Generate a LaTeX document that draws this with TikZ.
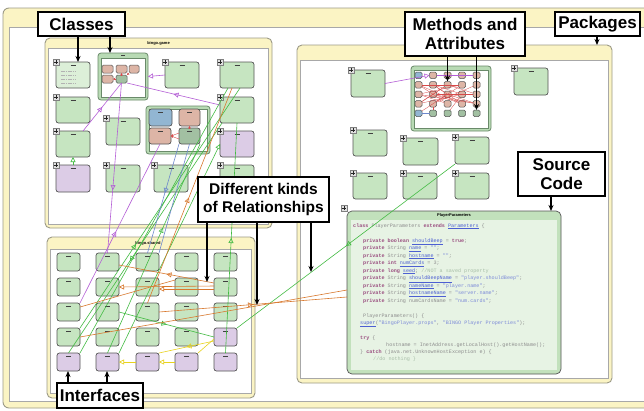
\documentclass[tikz,border=0pt]{standalone}
\usepackage{fontspec}
\setmainfont{Liberation Sans}
\setmonofont{Liberation Mono}
\usetikzlibrary{arrows.meta,calc,decorations.markings}
\definecolor{pkgyellow}{HTML}{FBF4C4}
\definecolor{pkgline}{HTML}{9C9A86}
\definecolor{innerline}{HTML}{A8A8A8}
\definecolor{clsgreen}{HTML}{C6E5C1}
\definecolor{clspale}{HTML}{DCEFD8}
\definecolor{clslilac}{HTML}{DCCCE6}
\definecolor{clssalmon}{HTML}{DDB5A6}
\definecolor{clsblue}{HTML}{92B6D2}
\definecolor{clsgray}{HTML}{A2C0A2}
\definecolor{boxborder}{HTML}{555555}
\definecolor{grpgreen}{HTML}{B8DAB4}
\definecolor{grpborder}{HTML}{6A8A6A}
\definecolor{srcouter}{HTML}{C2E1BC}
\definecolor{srcinner}{HTML}{E7F3E4}
\definecolor{purc}{HTML}{B45ED6}
\definecolor{grnc}{HTML}{44BB44}
\definecolor{orgc}{HTML}{D8782E}
\definecolor{yelc}{HTML}{E8D21E}
\definecolor{bluc}{HTML}{6E88CC}
\definecolor{redc}{HTML}{D64A4A}
\definecolor{codebase}{HTML}{8C8C8C}
\definecolor{codekw}{HTML}{9A4E80}
\definecolor{codefld}{HTML}{4D5FD2}
\definecolor{codestr}{HTML}{7C8AD8}
\definecolor{codecmt}{HTML}{A6BDA6}

\tikzset{
  cbox/.style={draw=boxborder, line width=0.7pt, rounded corners=2.5pt, anchor=north west, inner sep=0pt, outer sep=0pt},
  pkgbox/.style={draw=pkgline, line width=0.9pt, fill=pkgyellow, rounded corners=5pt, anchor=north west, inner sep=0pt, outer sep=0pt},
  grpbox/.style={draw=grpborder, line width=0.8pt, fill=grpgreen, rounded corners=3pt, anchor=north west, inner sep=0pt, outer sep=0pt},
  rel/.style={line width=0.6pt},
  midtri/.style={postaction={decorate}, decoration={markings, mark=at position #1 with {\arrow{Triangle[open,length=5pt,width=5pt]}}}},
  midtri/.default=0.5,
  endtri/.style={-{Triangle[open,length=5pt,width=5pt]}},
  redtip/.style={-{Stealth[length=2.5pt,width=2.5pt]}},
  callout/.style={draw=black, line width=1.5pt, fill=white, anchor=north west, inner sep=0pt, outer sep=0pt, font=\bfseries\fontsize{17}{19.5}\selectfont, align=center},
  pointer/.style={line width=1.3pt, -{Stealth[length=6pt,width=5pt]}},
  codeln/.style={anchor=base west, inner sep=0pt, font=\ttfamily\fontsize{5.1}{6}\selectfont, text=codebase},
  ptitle/.style={font=\bfseries\fontsize{4}{5}\selectfont, inner sep=0pt},
}

\newcommand\rkcls[6]{%
  \node[cbox, fill=#6, minimum width=#4pt, minimum height=#5pt] (#1) at (#2,#3) {};
  \draw[line width=0.8pt, black!75] ($(#1.north)+(-2.5,3.2)$) -- ++(5,0);}
\newcommand\rkplus[2]{%
  \draw[black!50, fill=black!12, line width=0.4pt] (#1,#2) rectangle ++(6,6);
  \draw[black!85, line width=0.6pt] ($(#1,#2)+(1.2,3)$) -- ++(3.6,0) ($(#1,#2)+(3,1.2)$) -- ++(0,3.6);}
\newcommand\rkclsp[6]{\rkcls{#1}{#2}{#3}{#4}{#5}{#6}\rkplus{#2-3}{#3-3}}
\newcommand\rktiny[6]{%
  \node[cbox, rounded corners=1.5pt, line width=0.5pt, fill=#6, minimum width=#4pt, minimum height=#5pt] (#1) at (#2,#3) {};}
\newcommand\rkkw[1]{\textcolor{codekw}{\bfseries #1}}
\newcommand\rkfld[1]{\textcolor{codefld}{\underline{#1}}}
\newcommand\rkstr[1]{\textcolor{codestr}{#1}}
\newcommand\rkcmt[1]{\textcolor{codecmt}{#1}}

\begin{document}
\begin{tikzpicture}[x=1pt, y=-1pt]
\path[use as bounding box] (0,0) rectangle (644,410);
\clip (0,0) rectangle (644,410);

% outer package frame
\draw[draw=pkgline, line width=0.9pt, fill=pkgyellow, rounded corners=6pt] (3,8) rectangle (700,408);
\draw[draw=innerline, line width=0.6pt, fill=white] (9,27) rectangle (700,401);

% packages
\node[pkgbox, minimum width=227pt, minimum height=190pt] (pkgGame) at (45,38) {};
\draw[draw=innerline, fill=white, line width=0.6pt] ($(pkgGame.north west)+(3,10)$) rectangle ($(pkgGame.south east)+(-4,-4)$);
\node[ptitle] (ttlGame) at ($(pkgGame.north)+(0,5)$) {bingo.game};

\node[pkgbox, minimum width=208pt, minimum height=161pt] (pkgShared) at (47,237) {};
\draw[draw=innerline, fill=white, line width=0.6pt] ($(pkgShared.north west)+(3,12)$) rectangle ($(pkgShared.south east)+(-4,-5)$);
\node[ptitle] (ttlShared) at ($(pkgShared.north)+(-3,6)$) {bingo.shared};

\node[pkgbox, minimum width=315pt, minimum height=338pt] (pkgPlayer) at (297,45) {};
\draw[draw=innerline, fill=white, line width=0.6pt] ($(pkgPlayer.north west)+(3,15)$) rectangle ($(pkgPlayer.south east)+(-4,-5)$);

% ---------- bingo.game classes ----------
\rkclsp{tA}{56}{62}{34}{26}{clspale}
\foreach \yy in {9,13,17,21} {\draw[black!30, line width=0.5pt, dash pattern=on 1.6pt off 0.7pt] ($(tA.north west)+(5,\yy)$) -- ++(16,0);}
\rkclsp{tC}{165}{62}{34}{26}{clsgreen}
\rkclsp{tD}{220}{62}{34}{26}{clsgreen}
\rkclsp{tE}{56}{97}{34}{26}{clsgreen}
\rkclsp{tF}{220}{97}{34}{26}{clsgreen}
\rkclsp{tG}{56}{131}{34}{26}{clsgreen}
\rkclsp{tH}{106}{118}{34}{27}{clsgreen}
\rkclsp{tJ}{220}{131}{34}{26}{clslilac}
\rkclsp{tK}{56}{165}{34}{27}{clslilac}
\rkclsp{tL}{106}{165}{34}{27}{clsgreen}
\rkclsp{tM}{154}{165}{34}{27}{clsgreen}
\rkclsp{tN}{220}{165}{34}{27}{clsgreen}

% group B
\node[grpbox, minimum width=50pt, minimum height=47pt] (gB) at (98,53) {};
\draw[fill=white, draw=grpborder, line width=0.5pt] ($(gB.north west)+(3,5)$) rectangle ($(gB.south east)+(-3,-3)$);
\draw[line width=0.7pt, black!75] ($(gB.north)+(-2,2.5)$) -- ++(4,0);
\rktiny{sB1}{102}{65}{11}{8}{clssalmon}
\rktiny{sB2}{116}{65}{11}{8}{clssalmon}
\rktiny{sB3}{129}{65}{10}{8}{clssalmon}
\rktiny{sB4}{102}{75}{11}{8}{clssalmon}
\rktiny{sB5}{116}{75}{11}{8}{clsgray}

% group I
\node[grpbox, minimum width=64pt, minimum height=48pt] (gI) at (146,106) {};
\draw[fill=white, draw=grpborder, line width=0.5pt] ($(gI.north west)+(3,3)$) rectangle ($(gI.south east)+(-3,-3)$);
\rkcls{iB1}{149}{109}{23}{17}{clsblue}
\rkcls{iB2}{179}{109}{21}{17}{clssalmon}
\rkcls{iB3}{149}{128}{22}{16}{clssalmon}
\rkcls{iB4}{179}{128}{21}{16}{clsgray}

% ---------- bingo.shared classes ----------
\foreach \rowi/\yy in {1/253,2/278,3/303} {
  \foreach \coli/\xx in {1/57,2/96,3/136,4/175,5/214} {
    \rkcls{b\rowi\coli}{\xx}{\yy}{23}{18}{clsgreen}
  }
}
\foreach \coli/\xx in {1/57,2/96,3/136,4/175} {\rkcls{b4\coli}{\xx}{328}{23}{18}{clsgreen}}
\rkcls{b45}{214}{328}{23}{18}{clslilac}
\foreach \coli/\xx in {1/57,2/96,3/136,4/175,5/214} {\rkcls{b5\coli}{\xx}{353}{23}{18}{clslilac}}

% ---------- bingo.player classes ----------
\rkclsp{r1}{351}{70}{34}{27}{clsgreen}
\rkclsp{r2}{514}{68}{34}{27}{clsgreen}
\rkclsp{r3}{353}{130}{34}{26}{clsgreen}
\rkclsp{r4}{403}{138}{35}{27}{clsgreen}
\rkclsp{r5}{455}{137}{34}{27}{clsgreen}
\rkclsp{r6}{353}{173}{34}{26}{clsgreen}
\rkclsp{r7}{403}{173}{34}{26}{clsgreen}
\rkclsp{r8}{455}{173}{34}{26}{clsgreen}

\node[grpbox, minimum width=80pt, minimum height=65pt] (rG) at (411,66) {};
\draw[fill=white, draw=grpborder, line width=0.5pt] ($(rG.north west)+(3,4)$) rectangle ($(rG.south east)+(-3,-3)$);
\foreach \rowi/\yy in {1/72,2/81.5,3/91,4/100.5,5/110} {
  \foreach \coli/\xx in {1/415,2/429.5,3/444,4/458.5,5/473} {
    \def\fc{clssalmon}
    \ifnum\rowi=5 \def\fc{clsgray}\fi
    \ifnum\coli=1 \ifnum\rowi=1 \def\fc{clsblue}\fi \ifnum\rowi=5 \def\fc{clsblue}\fi \fi
    \rktiny{g\rowi\coli}{\xx}{\yy}{7}{6.5}{\fc}
  }
}

% source code box
\node[cbox, fill=srcouter, minimum width=214pt, minimum height=163pt, rounded corners=5pt] (src) at (347,211) {};
\fill[srcinner] ($(src.north west)+(4,9)$) rectangle ($(src.south east)+(-4,-4)$);
\node[ptitle] (srcTitle) at ($(src.north)+(0,4)$) {PlayerParameters};
\rkplus{341}{205}
\node[codeln] (cd1) at (353,227) {\rkkw{class} PlayerParameters \rkkw{extends} \rkfld{Parameters} \{};
\node[codeln] (cd2) at (363,242) {\rkkw{private} \rkkw{boolean} \rkfld{shouldBeep} = \rkkw{true};};
\node[codeln] (cd3) at (363,249.5) {\rkkw{private} String \rkfld{name} = \rkstr{""};};
\node[codeln] (cd4) at (363,257) {\rkkw{private} String \rkfld{hostname} = \rkstr{""};};
\node[codeln] (cd5) at (363,264.5) {\rkkw{private} \rkkw{int} \rkfld{numCards} = 3;};
\node[codeln] (cd6) at (363,272) {\rkkw{private} \rkkw{long} \rkfld{seed}; \rkcmt{//NOT a saved property}};
\node[codeln] (cd7) at (363,279.5) {\rkkw{private} String \rkfld{shouldBeepName} = \rkstr{"player.shouldBeep"};};
\node[codeln] (cd8) at (363,287) {\rkkw{private} String \rkfld{nameName} = \rkstr{"player.name"};};
\node[codeln] (cd9) at (363,294.5) {\rkkw{private} String \rkfld{hostnameName} = \rkstr{"server.name"};};
\node[codeln] (cd10) at (363,302) {\rkkw{private} String numCardsName = \rkstr{"num.cards"};};
\node[codeln] (cd11) at (363,317) {PlayerParameters() \{};
\node[codeln] (cd12) at (360,324) {\rkfld{super}(\rkstr{"BingoPlayer.props"}, \rkstr{"BINGO Player Properties"});};
\node[codeln] (cd13) at (360,339) {\rkkw{try} \{};
\node[codeln] (cd14) at (386,346) {hostname = InetAddress.getLocalHost().getHostName();};
\node[codeln] (cd15) at (360,353) {\} \rkkw{catch} (java.net.UnknownHostException e) \{};
\node[codeln] (cd16) at (373,360) {\rkcmt{//do nothing \}}};

% ---------- relationships ----------
\begin{scope}[rel]
% red, inside groups
\draw[redc, line width=0.4pt, redtip] (sB5.north) -- (sB2.south);
\draw[redc, line width=0.4pt, redtip] (sB5.west) -- (sB4.east);
\draw[redc, line width=0.4pt, redtip] (sB3.south west) -- (sB5.north east);
\draw[redc, line width=0.4pt, redtip] ($(iB4.west)+(0,-3)$) -- (iB3.east);
\draw[redc, line width=0.4pt, redtip] ($(iB4.west)+(0,3)$) -- (iB3.east);
\draw[redc, line width=0.4pt, redtip] (iB4.north) -- (iB2.south);
\foreach \nodeA/\nodeB in {g21/g43, g22/g44, g31/g45, g23/g41, g32/g35, g42/g25, g33/g51, g24/g42, g34/g22, g43/g31, g44/g21, g41/g34, g22/g33, g35/g23, g45/g32, g21/g24, g32/g44, g41/g23, g33/g45, g24/g31, g42/g52, g34/g53} {
  \draw[redc, line width=0.3pt] (\nodeA) -- (\nodeB);
}
\draw[bluc] (g51) -- (g52);
% purple
\draw[purc, endtri] (tC.west) -- (gB.east);
\draw[purc, midtri] ($(tF.north west)+(0,8)$) -- (sB5.south east);
\draw[purc, midtri] ($(tG.north west)+(27,0)$) -- (sB5.south);
\draw[purc, midtri=0.63] (sB5.south) -- (b12.north);
\draw[purc, midtri=0.45] (b31.north east) -- (iB3.south);
\draw[purc, endtri] (r1.east) -- (g12.west);
\draw[purc] (g15.west) -- (g12.east);
% green
\draw[grnc, endtri] (tK.north) -- (tG.south);
\draw[grnc] ($(tD.south west)+(8,0)$) -- (b51.north east);
\draw[grnc, midtri=0.6] ($(tF.south west)+(2,0)$) -- (b51.north);
\draw[grnc, endtri] (b52.north east) -- (tJ.west);
\draw[grnc, midtri] (b55.north) -- (tF.south);
\draw[grnc, midtri] (r5.south west) -- (b45.north east);
\draw[grnc, midtri] (b32.east) -- (b45.west);
\draw[grnc, midtri=0.35] (b41.north east) -- ($(tD.south)+(3,0)$);
\draw[grnc, midtri=0.6] (b52.north) -- (iB4.south east);
% orange
\draw[orgc, midtri=0.49] (b33.north) -- ($(tD.south west)+(12,0)$);
\draw[orgc, endtri] ($(b25.west)+(0,-1)$) -- (b22.east);
\draw[orgc, endtri] ($(b25.west)+(0,2)$) -- ($(b23.east)+(0,2)$);
\draw[orgc, midtri] ($(b25.west)+(0,-4)$) -- ($(b12.east)+(0,3)$);
\draw[orgc] ($(b31.north east)+(0,4)$) -- ($(b24.west)+(0,-7)$);
\draw[orgc, midtri] (b33.east) -- ($(src.west)+(0,4.5)$);
\draw[orgc] (b41.east) -- ($(src.west)+(0,-2.5)$);
% yellow
\draw[yelc, midtri] ($(b45.west)+(0,4)$) -- (b53.north east);
\draw[yelc] (b54.north east) -- ($(b45.west)+(0,2)$);
\draw[yelc, endtri] (b54.west) -- (b53.east);
\draw[yelc, endtri] (b53.west) -- (b52.east);
% blue
\draw[bluc, midtri=0.45] (iB4.south west) -- (b13.north);
\draw[bluc] (iB4.south) -- (b13.north east);
\end{scope}

% ---------- callouts ----------
\node[callout, minimum width=87pt, minimum height=24pt] (lblClasses) at (38,12) {Classes};
\node[callout, minimum width=120pt, minimum height=44pt] (lblMethods) at (405,12) {Methods and\\Attributes};
\node[callout, minimum width=85pt, minimum height=24pt] (lblPackages) at (555,12) {Packages};
\node[callout, minimum width=87pt, minimum height=44pt] (lblSource) at (518,152) {Source\\Code};
\node[callout, minimum width=131pt, minimum height=45pt, font=\bfseries\fontsize{15.5}{18.5}\selectfont] (lblRel) at (198,177) {Different kinds\\of Relationships};
\node[callout, minimum width=86pt, minimum height=25pt] (lblIface) at (57,383) {Interfaces};

\coordinate (relT1) at (207,282);
\coordinate (relT2) at (257,305);
\coordinate (relT3) at (311,272);

\draw[pointer] ($(lblClasses.south west)+(40,0)$) -- ($(tA.north west)+(22,0)$);
\draw[pointer] ($(lblClasses.south west)+(72,0)$) -- ($(gB.north west)+(12,0)$);
\draw[pointer] (lblMethods.south -| g23.north) -- (g23.north);
\draw[pointer] (lblMethods.south -| g55.north) -- (g55.north);
\draw[pointer] ($(lblPackages.south west)+(42,0)$) -- ($(pkgPlayer.north east)+(-15,0)$);
\draw[pointer] ($(lblSource.south west)+(33,0)$) -- ($(src.north east)+(-10,0)$);
\draw[pointer] ($(lblRel.south west)+(9,0)$) -- (relT1);
\draw[pointer] ($(lblRel.south west)+(59,0)$) -- (relT2);
\draw[pointer] ($(lblRel.south west)+(113,0)$) -- (relT3);
\draw[pointer] ($(lblIface.north west)+(11,0)$) -- ($(b51.south west)+(11,0)$);
\draw[pointer] ($(lblIface.north west)+(50,0)$) -- ($(b52.south west)+(11,0)$);
\end{tikzpicture}
\end{document}
